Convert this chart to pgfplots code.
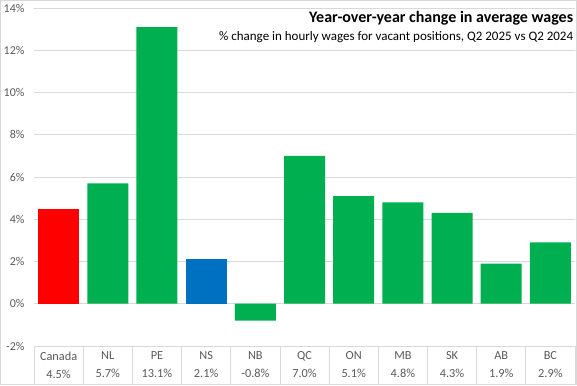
\documentclass[border=0pt]{standalone}
\usepackage{pgfplots}
\pgfplotsset{compat=1.18}
\usepackage{fontspec}
\setmainfont{Carlito}
\definecolor{cgreen}{HTML}{00B050}
\definecolor{cred}{HTML}{FF0000}
\definecolor{cblue}{HTML}{0070C0}
\definecolor{cgrid}{HTML}{D9D9D9}
\definecolor{ctext}{HTML}{595959}
\begin{document}
\begin{tikzpicture}[x=1pt,y=1pt]
\draw[cgrid, line width=0.8pt] (0.4,0.4) rectangle (576.6,384.6);
\begin{axis}[
  at={(34pt,39pt)}, anchor=south west,
  scale only axis, width=541pt, height=338pt,
  xmin=-0.5, xmax=10.5, ymin=-2, ymax=14,
  ytick={-2,0,...,14},
  yticklabel={\pgfmathprintnumber{\tick}\%},
  /pgf/number format/assume math mode=true,
  ymajorgrids, grid style={cgrid, line width=0.8pt},
  axis line style={draw=none},
  major tick length=0pt,
  xtick={0,...,10},
  xticklabels={{Canada\\4.5\%},{NL\\5.7\%},{PE\\13.1\%},{NS\\2.1\%},{NB\\-0.8\%},{QC\\7.0\%},{ON\\5.1\%},{MB\\4.8\%},{SK\\4.3\%},{AB\\1.9\%},{BC\\2.9\%}},
  xticklabel style={align=center, font=\fontsize{12.3}{18}\selectfont, text=ctext, yshift=-2pt},
  yticklabel style={font=\fontsize{12}{12}\selectfont, text=ctext, xshift=-6pt},
  ybar, bar width=41pt, bar shift=0pt,
  clip=false,
]
\addplot[fill=cred, draw=none] coordinates {(0,4.5)};
\addplot[fill=cgreen, draw=none] coordinates {(1,5.7) (2,13.1) (4,-0.8) (5,7.0) (6,5.1) (7,4.8) (8,4.3) (9,1.9) (10,2.9)};
\addplot[fill=cblue, draw=none] coordinates {(3,2.1)};
\pgfplotsinvokeforeach{0,...,11}{
  \draw[cgrid, line width=0.8pt] (axis cs:#1-0.5,-2) -- ([yshift=-38.5pt]axis cs:#1-0.5,-2);
}
\node[anchor=north east, font=\fontsize{16}{17}\selectfont\bfseries, inner sep=0pt] at (rel axis cs:0.997,0.99) {Year-over-year change in average wages};
\node[anchor=north east, font=\fontsize{13}{14}\selectfont, inner sep=0pt] at (rel axis cs:0.997,0.93) {\% change in hourly wages for vacant positions, Q2 2025 vs Q2 2024};
\end{axis}
\end{tikzpicture}
\end{document}
